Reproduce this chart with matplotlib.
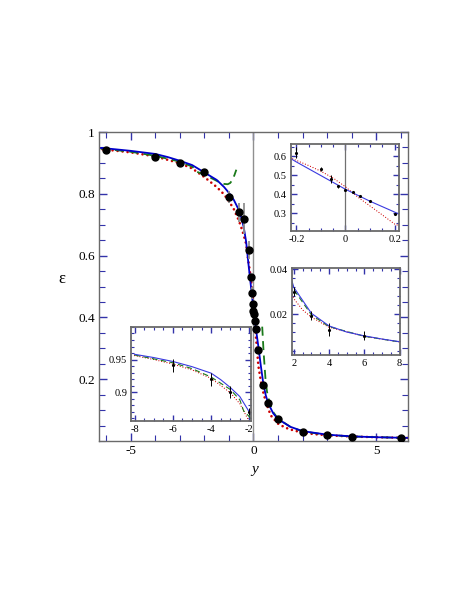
import matplotlib
matplotlib.use('Agg')
from matplotlib import pyplot as plt
from matplotlib.ticker import MultipleLocator, FixedLocator, FuncFormatter

plt.rcParams['font.family'] = ['Liberation Serif', 'DejaVu Serif']

# measured points
y_data = [-6, -4, -3, -2, -1, -0.6, -0.4, -0.2, -0.1, -0.06, -0.03, 0, 0.03, 0.06,
          0.1, 0.2, 0.4, 0.6, 1, 2, 3, 4, 6]
eps_data = [0.941, 0.920, 0.900, 0.870, 0.790, 0.740, 0.720, 0.618, 0.530, 0.478,
            0.442, 0.421, 0.412, 0.389, 0.364, 0.293, 0.182, 0.122, 0.070,
            0.030, 0.0194, 0.0133, 0.0105]
eps_err = [0.010, 0.010, 0.009, 0.006, 0.020, 0.030, 0.050, 0.030, 0.010, 0.020,
           0.008, 0.005, 0.005, 0.006, 0.006, 0.006, 0.005, 0.005, 0.004,
           0.002, 0.002, 0.003, 0.002]

# solid blue curve
y_blue = [-8, -7, -6, -5, -4, -3.5, -3, -2.5, -2, -1.5, -1.2, -1.0, -0.8, -0.6, -0.5,
          -0.4, -0.3, -0.2, -0.1, 0, 0.1, 0.2, 0.3, 0.4, 0.5, 0.6, 0.8, 1.0, 1.5,
          2, 3, 4, 5, 6, 7, 8]
eps_blue = [0.958, 0.953, 0.947, 0.939, 0.929, 0.919, 0.907, 0.893, 0.869, 0.845,
            0.822, 0.803, 0.780, 0.748, 0.724, 0.693, 0.645, 0.569, 0.497, 0.425,
            0.362, 0.305, 0.243, 0.186, 0.148, 0.122, 0.090, 0.071, 0.046,
            0.032, 0.0205, 0.0149, 0.0122, 0.0105, 0.0091, 0.0079]

# red dotted curve
y_red = [-8, -7, -6, -5, -4, -3, -2.5, -2, -1.5, -1.2, -1.0, -0.8, -0.6, -0.45, -0.3,
         -0.22, -0.15, -0.1, -0.05, 0, 0.05, 0.1, 0.15, 0.2, 0.3, 0.4, 0.5, 0.7,
         1.0, 1.3, 1.6, 2.0, 2.5, 3, 4, 6, 8]
eps_red = [0.956, 0.950, 0.943, 0.934, 0.921, 0.899, 0.882, 0.854, 0.822, 0.798,
           0.776, 0.750, 0.714, 0.680, 0.638, 0.588, 0.550, 0.520, 0.484, 0.438,
           0.384, 0.337, 0.290, 0.242, 0.194, 0.157, 0.128, 0.083, 0.056, 0.043,
           0.035, 0.027, 0.022, 0.0188, 0.0143, 0.0103, 0.0078]

# green dashed curve, two branches
y_green_neg = [-8, -7, -6, -5, -4, -3, -2.5, -2.3, -2, -1.7, -1.4, -1.2, -1.05,
               -0.95, -0.85, -0.77, -0.7]
eps_green_neg = [0.957, 0.951, 0.945, 0.936, 0.923, 0.904, 0.888, 0.871, 0.862,
                 0.850, 0.838, 0.832, 0.831, 0.835, 0.846, 0.862, 0.878]
y_green_pos = [0.355, 0.38, 0.41, 0.45, 0.49, 0.55, 0.65, 0.8, 1.0, 1.5, 2, 3, 4, 6, 8]
eps_green_pos = [0.370, 0.335, 0.290, 0.245, 0.200, 0.160, 0.125, 0.094, 0.072,
                 0.046, 0.031, 0.0198, 0.0146, 0.0103, 0.0078]

tick_blue = '#3333aa'
frame = '#6a6a6a'
fmt = FuncFormatter(lambda v, p: '%g' % v)


def draw_curves(ax, lw, blue, red_lw, red_gap):
    ax.plot(y_red, eps_red, color='#cc0000', lw=red_lw, linestyle=(0, (0.01, red_gap)),
            dash_capstyle='round')
    ax.plot(y_green_neg, eps_green_neg, color='#1a7a1a', lw=lw, linestyle=(0, (5, 3)))
    ax.plot(y_green_pos, eps_green_pos, color='#1a7a1a', lw=lw, linestyle=(0, (5, 3)))
    ax.plot(y_blue, eps_blue, color=blue, lw=lw)


def style_axes(ax, size, lw):
    for s in ax.spines.values():
        s.set_color(frame)
        s.set_linewidth(lw)
    ax.tick_params(which='both', direction='in', top=True, right=True,
                   color=tick_blue, labelsize=size, pad=3)
    ax.tick_params(which='major', length=4, width=1)
    ax.tick_params(which='minor', length=2.5, width=0.8)
    ax.xaxis.set_major_formatter(fmt)
    ax.yaxis.set_major_formatter(fmt)


fig = plt.figure(figsize=(4.63, 5.99), dpi=100)

# main panel
ax = fig.add_axes([0.2138, 0.2638, 0.6674, 0.5158])
ax.axvline(0, color='#909090', lw=1)
draw_curves(ax, 1.3, '#0000cc', 1.9, 1.9)
ax.errorbar(y_data, eps_data, yerr=eps_err, fmt='o', color='black', ms=5,
            ecolor='#909090', elinewidth=1.3, capsize=0, zorder=5)
ax.set_xlim(-6.3, 6.3)
ax.set_ylim(0, 1)
style_axes(ax, 9.5, 1)
ax.tick_params(which='major', length=6)
ax.tick_params(which='minor', length=4)
ax.xaxis.set_major_locator(FixedLocator([-5, 0, 5]))
ax.xaxis.set_minor_locator(MultipleLocator(1))
ax.yaxis.set_major_locator(FixedLocator([0.2, 0.4, 0.6, 0.8, 1.0]))
ax.yaxis.set_minor_locator(MultipleLocator(0.05))
ax.set_ylabel('ε', fontsize=12, rotation=0)
ax.yaxis.set_label_coords(-0.12, 0.5)
ax.set_xlabel('y', fontsize=11, style='italic')
ax.xaxis.set_label_coords(0.505, -0.07)

# inset: around y = 0
a1 = fig.add_axes([0.6285, 0.6149, 0.2333, 0.1442])
a1.axvline(0, color='#707070', lw=0.9)
draw_curves(a1, 0.8, '#3a3ae0', 0.9, 2.2)
a1.errorbar(y_data, eps_data, yerr=eps_err, fmt='.', color='black', ms=2.5,
            elinewidth=0.7, capsize=0)
a1.set_xlim(-0.222, 0.218)
a1.set_ylim(0.207, 0.662)
style_axes(a1, 7.5, 1.3)
a1.xaxis.set_major_locator(FixedLocator([-0.2, 0, 0.2]))
a1.xaxis.set_minor_locator(MultipleLocator(0.05))
a1.yaxis.set_major_locator(FixedLocator([0.3, 0.4, 0.5, 0.6]))
a1.yaxis.set_minor_locator(MultipleLocator(0.05))

# inset: large positive y
a2 = fig.add_axes([0.6307, 0.4073, 0.2343, 0.1457])
draw_curves(a2, 0.8, '#3a3ae0', 0.9, 2.2)
a2.errorbar(y_data, eps_data, yerr=eps_err, fmt='.', color='black', ms=2.5,
            elinewidth=0.7, capsize=0)
a2.set_xlim(1.9, 8.05)
a2.set_ylim(0.002, 0.0407)
style_axes(a2, 7.5, 1.3)
a2.xaxis.set_major_locator(FixedLocator([2, 4, 6, 8]))
a2.xaxis.set_minor_locator(MultipleLocator(0.5))
a2.yaxis.set_major_locator(FixedLocator([0.02, 0.04]))
a2.yaxis.set_minor_locator(MultipleLocator(0.004))

# inset: large negative y
a3 = fig.add_axes([0.2836, 0.2967, 0.2592, 0.1574])
draw_curves(a3, 0.8, '#3a3ae0', 0.9, 2.2)
a3.errorbar(y_data, eps_data, yerr=eps_err, fmt='.', color='black', ms=2.5,
            elinewidth=0.7, capsize=0)
a3.set_xlim(-8.17, -1.9)
a3.set_ylim(0.855, 1.0)
style_axes(a3, 7.5, 1.3)
a3.xaxis.set_major_locator(FixedLocator([-8, -6, -4, -2]))
a3.xaxis.set_minor_locator(MultipleLocator(0.5))
a3.yaxis.set_major_locator(FixedLocator([0.9, 0.95]))
a3.yaxis.set_minor_locator(MultipleLocator(0.01))

fig.savefig('out.png', dpi=100)
